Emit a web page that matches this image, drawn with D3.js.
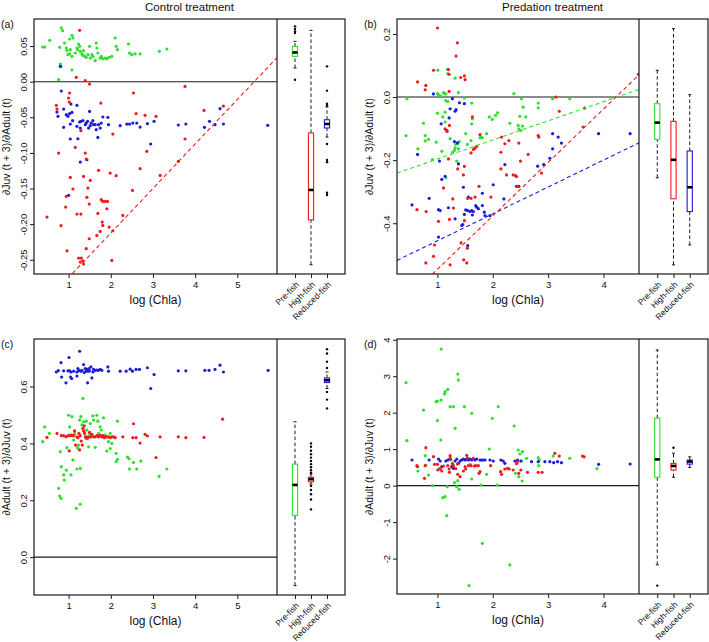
<!DOCTYPE html>
<html>
<head>
<meta charset="utf-8">
<script src="https://cdn.jsdelivr.net/npm/d3@7"></script>
<style>
  body { margin: 0; background: #fff; }
  text { font-family: "Liberation Sans", Arial, Helvetica, sans-serif; fill: #111; }
</style>
</head>
<body>
<div id="chart"></div>
<script>
(function(){
    // ---- data ----
    const groups = ["Pre-fish", "High-fish", "Reduced-fish"];

    const xTicksControl = [1, 2, 3, 4, 5];
    const xTicksPred = [1, 2, 3, 4];
    const yTicksA = [0.05, 0, -0.05, -0.10, -0.15, -0.20, -0.25];
    const yTicksB = [0.2, 0, -0.2, -0.4];
    const yTicksC = [0, 0.2, 0.4, 0.6];
    const yTicksD = [-2, -1, 0, 1, 2, 3, 4];

    // (a) control, dJuv(t+3)/dAdult(t)
    const aGreen = [[0.386,0.0487],[0.433,0.0487],[0.552,0.058],[0.827,0.0754],[0.859,0.0716],[0.788,0.0482],[0.906,0.0543],[0.946,0.0473],[0.985,0.0379],[1.024,0.0599],[1.080,0.0651],[1.103,0.0613],[0.961,0.044],[1.040,0.045],[1.024,0.0389],[1.080,0.0356],[1.158,0.0403],[1.198,0.0473],[1.214,0.045],[1.237,0.0529],[1.261,0.0496],[1.277,0.0426],[1.316,0.0389],[1.340,0.037],[1.355,0.0435],[1.379,0.0356],[1.418,0.0342],[1.458,0.0379],[1.497,0.0496],[1.513,0.0332],[1.552,0.0379],[1.576,0.0356],[1.631,0.0295],[1.655,0.0543],[1.671,0.0473],[1.694,0.0403],[1.749,0.0332],[1.773,0.0356],[1.812,0.0323],[1.868,0.0332],[1.907,0.0323],[1.962,0.0342],[2.025,0.0356],[2.104,0.0613],[2.128,0.0496],[2.159,0.045],[2.419,0.0529],[2.443,0.0403],[2.498,0.0379],[2.577,0.0389],[2.695,0.0389],[3.152,0.0426],[3.33,0.0459],[0.804,0.0248],[0.820,0.0211],[1.080,0.0164],[0.764,0.0028]];
    const aBlue = [[0.827,-0.0131],[0.725,-0.0426],[0.749,-0.0487],[0.883,-0.0384],[0.946,-0.0463],[0.985,-0.0487],[1.024,-0.0449],[1.056,-0.0314],[1.080,-0.0431],[1.198,-0.0332],[1.095,-0.0548],[1.040,-0.0595],[0.883,-0.0641],[1.198,-0.0627],[1.261,-0.0566],[1.292,-0.0557],[1.277,-0.0651],[1.221,-0.0801],[1.040,-0.0805],[1.340,-0.0548],[1.395,-0.0604],[1.418,-0.0581],[1.450,-0.0557],[1.474,-0.0651],[1.497,-0.0417],[1.513,-0.0618],[1.537,-0.0581],[1.576,-0.0548],[1.592,-0.0604],[1.631,-0.0604],[1.655,-0.0674],[1.694,-0.0782],[1.710,-0.0604],[1.749,-0.0651],[1.773,-0.0581],[1.812,-0.0496],[1.931,-0.0501],[1.946,-0.0604],[2.222,-0.0618],[2.380,-0.0595],[2.443,-0.0595],[2.522,-0.0581],[2.616,-0.0581],[2.695,-0.0637],[2.868,-0.059],[3.026,-0.0557],[2.947,-0.0875],[1.277,-0.1128],[1.434,-0.1096],[1.001,-0.1596],[0.804,0.0215],[3.60,-0.0608],[3.78,-0.0594],[4.22,-0.0641],[4.34,-0.0557],[4.47,-0.0604],[4.59,-0.0379],[4.67,-0.0594],[5.72,-0.0613]];
    const aRed = [[1.261,0.0721],[1.182,0.0061],[1.395,0.0014],[1.497,-0.0033],[1.024,-0.0159],[0.999,-0.0229],[1.016,-0.0286],[0.709,-0.0332],[0.725,-0.0384],[1.765,-0.030],[1.292,-0.0688],[2.537,-0.0159],[2.600,-0.0449],[2.813,-0.0473],[3.073,-0.0487],[2.049,-0.0735],[0.764,-0.1002],[1.158,-0.0922],[1.395,-0.1002],[1.419,-0.1086],[1.710,-0.1245],[1.986,-0.1283],[2.128,-0.132],[2.695,-0.1222],[2.853,-0.0978],[1.040,-0.1344],[1.355,-0.133],[1.513,-0.1386],[1.103,-0.1507],[0.946,-0.161],[1.458,-0.1493],[1.434,-0.1624],[1.489,-0.1718],[1.773,-0.1657],[1.812,-0.1681],[1.868,-0.1681],[1.923,-0.1681],[1.907,-0.1784],[0.930,-0.176],[1.198,-0.1859],[1.292,-0.1859],[1.694,-0.1849],[2.285,-0.1877],[2.514,-0.1526],[0.488,-0.1901],[0.820,-0.2022],[1.797,-0.1971],[1.812,-0.2018],[1.749,-0.2102],[1.671,-0.2158],[1.962,-0.2041],[2.049,-0.2093],[1.489,-0.2205],[0.962,-0.2374],[1.418,-0.2345],[1.237,-0.2477],[1.300,-0.2477],[1.340,-0.2514],[1.355,-0.2561],[1.277,-0.2533],[2.025,-0.2509],[3.17,-0.1316],[3.76,-0.0066],[4.21,-0.0403],[4.67,-0.0342],[3.76,-0.0805],[3.60,-0.112]];
    const aFitRed = [-0.3375, 0.0625];          // intercept, slope
    const aBox = [[0.0192,0.0355,0.041,0.0496,0.0566],[-0.257,-0.194,-0.152,-0.072,0.072],[-0.0777,-0.065,-0.0594,-0.0534,-0.0355]];
    const aOut = [[0.0777,0.074,0.0706,0.0684,0.0028],[],[0.0215,-0.0126,-0.031,-0.0333,-0.0875,-0.11,-0.113,-0.156,-0.159]];

    // (b) predation, dJuv(t+3)/dAdult(t)
    const bGreen = [[0.450,-0.005],[0.432,-0.122],[0.647,-0.164],[0.749,-0.083],[0.779,-0.122],[0.779,-0.139],[0.839,-0.134],[0.911,-0.198],[0.977,-0.143],[1.007,0.085],[1.001,0.011],[1.019,0.007],[1.001,-0.051],[1.061,0.003],[1.109,0.014],[1.127,0.011],[1.151,0.010],[1.181,0.088],[1.187,0.074],[1.151,-0.011],[1.139,-0.048],[1.079,-0.172],[1.187,-0.014],[1.319,0.060],[1.379,0.014],[1.097,-0.063],[1.139,-0.079],[1.229,-0.132],[1.271,-0.175],[1.307,-0.169],[1.349,-0.203],[1.319,-0.161],[1.331,-0.150],[1.367,-0.148],[1.379,-0.164],[1.397,-0.141],[1.487,-0.003],[1.511,-0.116],[1.541,-0.150],[1.607,-0.138],[1.619,-0.019],[1.619,-0.085],[1.631,-0.069],[1.769,-0.129],[1.787,-0.127],[1.811,-0.129],[1.889,-0.116],[1.937,-0.063],[1.991,-0.071],[2.050,-0.058],[2.086,-0.050],[2.308,-0.083],[2.380,0.011],[2.458,-0.090],[2.470,-0.101],[2.488,-0.061],[2.518,-0.005],[2.548,-0.032],[2.536,-0.092],[2.506,-0.106],[2.596,-0.063],[1.151,-0.256],[2.82,-0.019],[2.82,-0.034],[3.08,-0.005],[3.39,-0.005]];
    const bBlue = [[0.929,0.010],[1.271,-0.005],[1.397,-0.018],[1.487,-0.021],[1.319,-0.045],[1.337,-0.040],[1.229,-0.037],[1.211,-0.066],[1.067,-0.085],[1.169,-0.106],[1.037,-0.203],[0.641,-0.182],[1.307,-0.141],[1.361,-0.145],[1.379,-0.212],[1.079,-0.261],[1.139,-0.251],[1.469,-0.286],[0.851,-0.321],[0.540,-0.342],[1.019,-0.357],[1.049,-0.360],[1.199,-0.351],[1.319,-0.386],[1.457,-0.404],[1.487,-0.372],[1.511,-0.358],[1.546,-0.360],[1.589,-0.363],[1.619,-0.360],[1.649,-0.363],[1.631,-0.374],[1.691,-0.344],[1.709,-0.349],[1.739,-0.354],[1.811,-0.344],[1.847,-0.365],[1.859,-0.376],[1.949,-0.376],[1.811,-0.305],[1.559,-0.317],[1.439,-0.407],[1.547,-0.471],[1.019,-0.444],[2.008,-0.278],[2.218,-0.214],[2.200,-0.323],[2.428,-0.283],[2.470,-0.283],[2.81,-0.219],[2.92,-0.214],[3.03,-0.194],[3.08,-0.164],[3.08,-0.116],[3.18,-0.127],[3.24,-0.146],[3.91,-0.116],[4.48,-0.116]];
    const bRed = [[1.001,0.219],[1.361,0.172],[1.337,0.130],[0.929,0.085],[1.199,0.087],[1.211,0.072],[1.421,0.062],[1.487,0.067],[1.499,0.055],[0.641,0.048],[0.791,0.037],[0.779,0.023],[1.211,0.018],[1.631,-0.063],[1.217,-0.090],[1.139,-0.101],[1.175,-0.109],[1.769,-0.119],[1.607,-0.177],[1.649,-0.166],[1.679,-0.162],[1.709,-0.156],[1.199,-0.196],[1.367,-0.228],[1.487,-0.220],[1.469,-0.247],[1.109,-0.288],[1.277,-0.323],[1.546,-0.321],[1.607,-0.321],[1.679,-0.317],[1.751,-0.283],[1.966,-0.317],[1.289,-0.352],[1.217,-0.388],[1.019,-0.394],[0.797,-0.363],[0.630,-0.357],[1.487,-0.392],[1.427,-0.462],[1.541,-0.479],[0.947,-0.469],[0.929,-0.505],[0.791,-0.526],[1.229,-0.532],[1.475,-0.516],[1.529,-0.526],[2.158,-0.127],[2.146,-0.175],[2.218,-0.148],[2.290,-0.138],[2.470,-0.146],[2.248,-0.247],[2.368,-0.247],[2.410,-0.249],[2.428,-0.252],[2.500,-0.203],[2.638,-0.182],[2.146,-0.228],[2.446,-0.283],[2.82,-0.122],[2.83,-0.127],[2.88,-0.241],[3.14,0.0],[3.20,-0.045],[3.63,-0.095],[3.66,-0.035],[4.63,0.072]];
    const bFitGreen = [-0.2574, 0.0607];
    const bFitBlue = [-0.541, 0.0853];
    const bFitRed = [-0.7155, 0.1694];
    const bBox = [[-0.256,-0.134,-0.081,-0.021,0.085],[-0.532,-0.3225,-0.199,-0.077,0.217],[-0.469,-0.363,-0.286,-0.171,0.0076]];
    const bOut = [[],[],[]];

    // (c) control, dAdult(t+3)/dJuv(t)
    const cGreen = [[0.433,0.458],[0.386,0.406],[0.544,0.435],[0.804,0.371],[0.827,0.318],[0.883,0.289],[0.898,0.271],[0.946,0.306],[0.961,0.385],[1.001,0.499],[1.024,0.458],[1.040,0.429],[1.056,0.289],[1.080,0.494],[1.103,0.342],[1.119,0.412],[1.143,0.435],[1.198,0.310],[1.214,0.384],[1.237,0.394],[1.261,0.482],[1.277,0.312],[1.292,0.494],[1.316,0.465],[1.340,0.558],[1.355,0.476],[1.379,0.441],[1.418,0.478],[1.434,0.447],[1.474,0.388],[1.497,0.435],[1.513,0.470],[1.537,0.429],[1.576,0.497],[1.592,0.482],[1.631,0.386],[1.671,0.499],[1.694,0.478],[1.710,0.435],[1.749,0.458],[1.773,0.447],[1.828,0.490],[1.868,0.429],[1.907,0.373],[1.946,0.406],[1.986,0.435],[1.986,0.382],[2.025,0.400],[2.128,0.365],[2.128,0.336],[2.159,0.478],[2.159,0.344],[2.396,0.352],[2.435,0.346],[2.443,0.310],[2.537,0.333],[2.616,0.310],[2.711,0.338],[3.144,0.284],[3.33,0.31],[0.764,0.242],[0.788,0.215],[0.820,0.207],[1.182,0.172],[1.277,0.186]];
    const cBlue = [[0.709,0.651],[0.757,0.656],[0.820,0.684],[0.835,0.633],[0.883,0.655],[0.938,0.613],[0.985,0.655],[1.009,0.702],[1.024,0.655],[1.048,0.633],[1.072,0.628],[1.056,0.651],[1.119,0.654],[1.198,0.651],[1.198,0.637],[1.221,0.663],[1.245,0.656],[1.261,0.724],[1.292,0.654],[1.316,0.657],[1.355,0.677],[1.371,0.649],[1.395,0.663],[1.418,0.654],[1.434,0.660],[1.450,0.613],[1.466,0.654],[1.482,0.663],[1.497,0.655],[1.529,0.669],[1.552,0.630],[1.576,0.651],[1.592,0.660],[1.631,0.657],[1.671,0.658],[1.710,0.657],[1.749,0.660],[1.789,0.657],[1.931,0.669],[1.946,0.654],[2.222,0.654],[2.364,0.654],[2.459,0.661],[2.514,0.654],[2.600,0.660],[2.679,0.660],[2.868,0.666],[2.947,0.593],[3.026,0.642],[3.60,0.655],[3.78,0.655],[4.23,0.657],[4.33,0.657],[4.47,0.660],[4.59,0.675],[4.67,0.651],[5.73,0.657]];
    const cRed = [[0.488,0.421],[0.725,0.435],[0.827,0.427],[0.883,0.427],[0.938,0.423],[0.985,0.427],[1.016,0.374],[1.040,0.427],[1.064,0.429],[1.095,0.427],[1.119,0.427],[1.143,0.444],[1.166,0.394],[1.198,0.423],[1.221,0.420],[1.245,0.435],[1.261,0.377],[1.277,0.427],[1.300,0.408],[1.324,0.394],[1.340,0.453],[1.355,0.444],[1.371,0.462],[1.379,0.435],[1.395,0.423],[1.418,0.418],[1.434,0.423],[1.450,0.418],[1.474,0.423],[1.497,0.439],[1.529,0.423],[1.552,0.432],[1.592,0.423],[1.631,0.423],[1.671,0.427],[1.710,0.423],[1.734,0.427],[1.765,0.427],[1.789,0.423],[1.812,0.427],[1.844,0.420],[1.868,0.423],[1.907,0.423],[1.946,0.423],[1.986,0.420],[2.025,0.423],[2.065,0.423],[2.104,0.420],[2.285,0.423],[2.537,0.469],[2.522,0.420],[2.600,0.420],[2.695,0.401],[2.813,0.432],[2.868,0.426],[3.073,0.350],[3.168,0.423],[3.60,0.423],[3.78,0.420],[4.21,0.421],[4.65,0.485]];
    const cBox = [[-0.1,0.147,0.254,0.327,0.476],[0.257,0.265,0.274,0.281,0.292],[0.593,0.614,0.622,0.63,0.651]];
    const cOut = [[],[0.4,0.388,0.374,0.362,0.35,0.338,0.327,0.316,0.306,0.297,0.25,0.236,0.221,0.203,0.168],[0.731,0.716,0.687,0.665,0.581,0.554,0.523]];

    // (d) predation, dAdult(t+3)/dJuv(t)
    const dGreen = [[1.067,3.744],[0.432,2.822],[1.367,3.059],[1.379,2.895],[1.187,2.639],[1.139,2.575],[1.127,2.511],[1.067,2.347],[1.001,2.320],[0.977,2.301],[1.229,2.164],[1.289,2.164],[1.487,2.164],[2.098,2.164],[0.749,2.073],[1.619,1.982],[1.001,1.781],[1.991,1.845],[2.386,1.635],[1.319,1.571],[0.450,1.233],[1.061,1.251],[1.937,1.005],[0.779,0.822],[0.791,0.566],[0.647,0.402],[0.839,0.292],[0.911,0.000],[1.097,-0.329],[1.139,-0.301],[1.169,-0.822],[1.175,-0.027],[1.307,0.082],[1.349,-0.027],[1.391,-0.100],[1.367,0.137],[1.619,0.183],[1.787,0.018],[1.811,-1.580],[2.080,0.018],[2.308,-2.174],[1.571,-2.740],[1.037,0.475],[1.247,0.703],[1.289,0.566],[1.589,0.584],[1.889,0.311],[2.458,0.977],[2.488,0.868],[2.410,0.338],[2.470,0.247],[2.530,0.128],[2.518,0.676],[2.536,0.932],[2.608,0.749],[2.82,0.767],[2.84,0.70],[2.83,0.548],[3.09,0.81],[3.39,0.75],[3.88,0.47]];
    const dBlue = [[0.540,0.703],[0.851,0.703],[1.019,0.731],[1.049,0.676],[1.079,0.521],[1.151,0.676],[1.187,0.703],[1.229,0.731],[1.259,0.521],[1.289,0.475],[1.319,0.676],[1.349,0.731],[1.379,0.612],[1.409,0.676],[1.439,0.703],[1.469,0.731],[1.499,0.703],[1.529,0.731],[1.559,0.703],[1.589,0.731],[1.619,0.703],[1.649,0.731],[1.679,0.703],[1.709,0.731],[1.769,0.703],[1.799,0.703],[1.829,0.703],[1.859,0.703],[1.949,0.703],[2.008,0.676],[2.146,0.703],[2.188,0.676],[2.218,0.612],[2.398,0.676],[2.446,0.703],[2.506,0.676],[2.70,0.658],[2.82,0.658],[2.94,0.658],[3.03,0.658],[3.10,0.63],[3.17,0.658],[3.24,0.63],[3.91,0.585],[4.48,0.594]];
    const dRed = [[0.629,0.548],[0.641,0.521],[0.791,1.041],[0.779,0.548],[0.767,0.201],[0.929,0.795],[0.947,0.584],[1.001,0.584],[1.007,0.429],[1.049,0.457],[1.079,0.402],[1.109,0.539],[1.187,0.548],[1.211,0.457],[1.217,0.365],[1.229,0.822],[1.229,0.749],[1.271,0.603],[1.289,0.539],[1.331,0.466],[1.361,0.593],[1.367,0.311],[1.409,0.247],[1.469,0.402],[1.499,0.521],[1.511,0.457],[1.529,0.831],[1.547,0.758],[1.559,0.548],[1.607,0.548],[1.649,0.749],[1.667,0.539],[1.691,0.548],[1.739,0.548],[1.751,0.338],[1.769,0.384],[1.961,0.548],[2.140,0.384],[2.158,0.311],[2.218,0.457],[2.266,0.475],[2.296,0.457],[2.368,0.429],[2.428,0.603],[2.446,0.649],[2.470,0.338],[2.506,0.429],[2.626,0.365],[2.82,0.365],[2.89,0.365],[3.12,0.886],[3.20,0.81],[3.62,0.81],[3.65,0.79]];
    const dBox = [[-2.17,0.23,0.72,1.85,3.72],[0.23,0.43,0.54,0.61,0.89],[0.50,0.59,0.66,0.70,0.79]];
    const dOut = [[-2.74],[1.04],[]];

    // ---- drawing ----
    const colour = {green: "#2ee02e", red: "#ee1c1c", blue: "#1c1cdc"};
    const groupColour = [colour.green, colour.red, colour.blue];
    const ink = "#1a1a1a";

    const svg = d3.select("#chart").append("svg")
        .attr("width", 709)
        .attr("height", 642);

    const yLabJuv = "\u2202Juv (t + 3)/\u2202Adult (t)";
    const yLabAdult = "\u2202Adult (t + 3)/\u2202Juv (t)";

    const panels = [
        {id: "a", left: 34, mid: 277, right: 345, top: 19, bottom: 274,
         xd: [0.18, 5.94], yd: [-0.27, 0.088], xt: xTicksControl, yt: yTicksA, dec: 2,
         series: [["green", aGreen], ["blue", aBlue], ["red", aRed]],
         fits: [["red", aFitRed]], box: aBox, out: aOut, ylab: yLabJuv, title: "Control treatment"},
        {id: "b", left: 397, mid: 639, right: 708, top: 19, bottom: 274,
         xd: [0.27, 4.64], yd: [-0.561, 0.2475], xt: xTicksPred, yt: yTicksB, dec: 1,
         series: [["green", bGreen], ["blue", bBlue], ["red", bRed]],
         fits: [["green", bFitGreen], ["blue", bFitBlue], ["red", bFitRed]], box: bBox, out: bOut, ylab: yLabJuv, title: "Predation treatment"},
        {id: "c", left: 34, mid: 277, right: 345, top: 339, bottom: 595,
         xd: [0.18, 5.94], yd: [-0.133, 0.767], xt: xTicksControl, yt: yTicksC, dec: 1,
         series: [["blue", cBlue], ["green", cGreen], ["red", cRed]],
         fits: [], box: cBox, out: cOut, ylab: yLabAdult},
        {id: "d", left: 397, mid: 639, right: 708, top: 339, bottom: 594,
         xd: [0.27, 4.64], yd: [-2.97, 4.02], xt: xTicksPred, yt: yTicksD, dec: 0,
         series: [["green", dGreen], ["blue", dBlue], ["red", dRed]],
         fits: [], box: dBox, out: dOut, ylab: yLabAdult}
    ];

    panels.forEach(function(p) {
        const g = svg.append("g");
        const x = d3.scaleLinear().domain(p.xd).range([p.left, p.mid]);
        const y = d3.scaleLinear().domain(p.yd).range([p.bottom, p.top]);
        // category positions in the boxplot strip
        const xb = d3.scaleLinear().domain([-0.125, 4.125]).range([p.mid, p.right]);

        svg.append("clipPath").attr("id", "clip-" + p.id)
            .append("rect")
            .attr("x", p.left).attr("y", p.top)
            .attr("width", p.mid - p.left).attr("height", p.bottom - p.top);

        const plot = g.append("g").attr("clip-path", "url(#clip-" + p.id + ")");

        // zero line
        plot.append("line")
            .attr("x1", p.left).attr("x2", p.mid)
            .attr("y1", y(0)).attr("y2", y(0))
            .attr("stroke", ink).attr("stroke-width", 1.1);

        // points
        p.series.forEach(function(s) {
            plot.append("g").selectAll("circle")
                .data(s[1])
                .enter().append("circle")
                .attr("cx", d => x(d[0]))
                .attr("cy", d => y(d[1]))
                .attr("r", 1.6)
                .attr("fill", colour[s[0]]);
        });

        // dashed regression lines
        p.fits.forEach(function(f) {
            const a = f[1][0], b = f[1][1];
            plot.append("line")
                .attr("x1", x(p.xd[0])).attr("y1", y(a + b * p.xd[0]))
                .attr("x2", x(p.xd[1])).attr("y2", y(a + b * p.xd[1]))
                .attr("stroke", colour[f[0]])
                .attr("stroke-width", 1.1)
                .attr("stroke-dasharray", "4,3");
        });

        // boxplots
        const bw = 2.6;
        p.box.forEach(function(s, i) {
            const cx = xb(i + 1);
            const bg = g.append("g");
            [[s[0], s[1]], [s[3], s[4]]].forEach(function(w) {
                bg.append("line")
                    .attr("x1", cx).attr("x2", cx)
                    .attr("y1", y(w[0])).attr("y2", y(w[1]))
                    .attr("stroke", ink).attr("stroke-width", 1)
                    .attr("stroke-dasharray", "3.5,2.5");
            });
            [s[0], s[4]].forEach(function(v) {
                bg.append("line")
                    .attr("x1", cx - 1.5).attr("x2", cx + 1.5)
                    .attr("y1", y(v)).attr("y2", y(v))
                    .attr("stroke", ink).attr("stroke-width", 1);
            });
            bg.append("rect")
                .attr("x", cx - bw).attr("width", bw * 2)
                .attr("y", y(s[3])).attr("height", Math.max(1, y(s[1]) - y(s[3])))
                .attr("fill", "#fff")
                .attr("stroke", groupColour[i]).attr("stroke-width", 1.1);
            bg.append("line")
                .attr("x1", cx - bw).attr("x2", cx + bw)
                .attr("y1", y(s[2])).attr("y2", y(s[2]))
                .attr("stroke", "#000").attr("stroke-width", 2.6);
            bg.selectAll("circle")
                .data(p.out[i])
                .enter().append("circle")
                .attr("cx", cx).attr("cy", d => y(d))
                .attr("r", 1.2).attr("fill", "#000");
        });

        // frame + divider
        g.append("rect")
            .attr("x", p.left).attr("y", p.top)
            .attr("width", p.right - p.left).attr("height", p.bottom - p.top)
            .attr("fill", "none").attr("stroke", ink).attr("stroke-width", 1.2);
        g.append("line")
            .attr("x1", p.mid).attr("x2", p.mid)
            .attr("y1", p.top).attr("y2", p.bottom)
            .attr("stroke", ink).attr("stroke-width", 1.2);

        // x axis of scatter
        const xa = g.append("g")
            .attr("transform", "translate(0," + p.bottom + ")")
            .call(d3.axisBottom(x).tickValues(p.xt).tickFormat(d => String(d)).tickSize(4).tickPadding(3));
        xa.select(".domain").remove();
        xa.selectAll("line").attr("stroke", ink);
        xa.selectAll("text").attr("font-size", 9.5).attr("fill", "#111");

        // y axis with rotated labels (R style)
        const ya = g.append("g")
            .attr("transform", "translate(" + p.left + ",0)")
            .call(d3.axisLeft(y).tickValues(p.yt).tickFormat(d => d.toFixed(p.dec)).tickSize(4));
        ya.select(".domain").remove();
        ya.selectAll("line").attr("stroke", ink);
        ya.selectAll("text")
            .attr("font-size", 9.5).attr("fill", "#111")
            .attr("x", 0).attr("dy", null)
            .attr("y", -7)
            .attr("text-anchor", "middle")
            .attr("transform", "rotate(-90)");

        // category axis of boxplot strip
        const ba = g.append("g")
            .attr("transform", "translate(0," + p.bottom + ")")
            .call(d3.axisBottom(xb).tickValues([1, 2, 3]).tickFormat((d, i) => groups[i]).tickSize(4));
        ba.select(".domain").remove();
        ba.selectAll("line").attr("stroke", ink);
        ba.selectAll("text")
            .attr("font-size", 8.5).attr("fill", "#111")
            .attr("x", 0).attr("y", 0).attr("dy", "0.35em")
            .attr("text-anchor", "end")
            .attr("transform", "translate(2,9) rotate(-45)");

        // titles
        g.append("text")
            .attr("x", (p.left + p.mid) / 2).attr("y", p.bottom + 30)
            .attr("text-anchor", "middle").attr("font-size", 12)
            .text("log (Chla)");
        g.append("text")
            .attr("transform", "translate(" + (p.left - 24) + "," + ((p.top + p.bottom) / 2) + ") rotate(-90)")
            .attr("text-anchor", "middle").attr("font-size", 10.5)
            .text(p.ylab);
        g.append("text")
            .attr("x", p.left - 33).attr("y", p.top + 9)
            .attr("font-size", 10.5)
            .text("(" + p.id + ")");
        if (p.title) {
            g.append("text")
                .attr("x", (p.left + p.right) / 2).attr("y", 11)
                .attr("text-anchor", "middle").attr("font-size", 11.5)
                .text(p.title);
        }
    });
})();
</script>
</body>
</html>
